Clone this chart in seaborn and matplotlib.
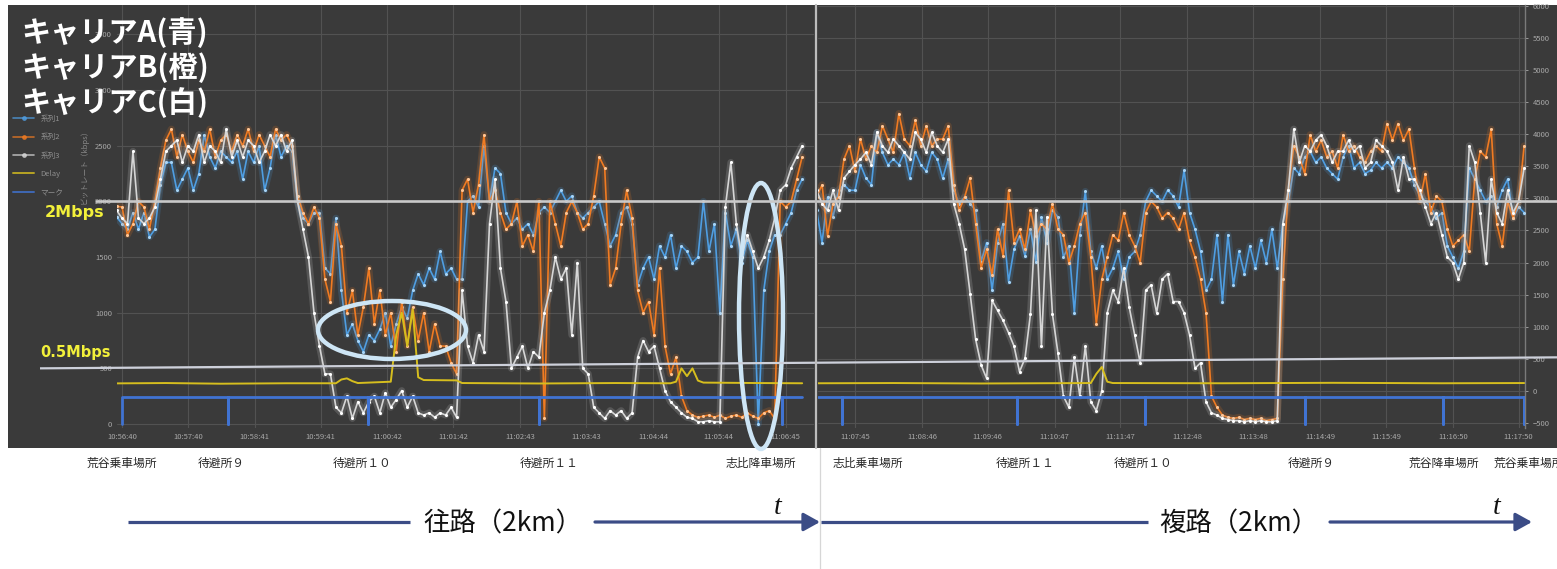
import numpy as np
import pandas as pd
import matplotlib
matplotlib.use("Agg")
import matplotlib.pyplot as plt
import matplotlib.transforms as mtransforms
from matplotlib.patches import Ellipse, Rectangle
from matplotlib.lines import Line2D
import seaborn as sns

# ---------------- data ----------------
series_names = ["系列1", "系列2", "系列3"]
legend_extra = ["Delay", "マーク"]
carrier_labels = ["キャリアA(青)", "キャリアB(橙)", "キャリアC(白)"]
threshold_labels = ["2Mbps", "0.5Mbps"]
threshold_values = [2000, 500]
y_axis_label = "ビットレート（kbps）"

left_time_labels = ["10:56:40", "10:57:40", "10:58:41", "10:59:41", "11:00:42", "11:01:42",
                    "11:02:43", "11:03:43", "11:04:44", "11:05:44", "11:06:45"]
right_time_labels = ["11:07:45", "11:08:46", "11:09:46", "11:10:47", "11:11:47", "11:12:48",
                     "11:13:48", "11:14:49", "11:15:49", "11:16:50", "11:17:50"]
left_axis_ticks = list(range(0, 3501, 500))
right_axis_ticks = list(range(-500, 6001, 500))

# sample times (seconds after 10:56:40)
t_left = np.arange(-5, 621, 5)
t_right = np.arange(630, 1276, 5)

blue_left = [1860, 1800, 1750, 1900, 1750, 1900, 1680, 1750, 2150, 2350,
             2350, 2100, 2200, 2300, 2100, 2250, 2600, 2400, 2300, 2450,
             2400, 2350, 2450, 2200, 2450, 2350, 2500, 2100, 2300, 2600,
             2400, 2500, 2450, 2000, 1850, 1800, 1900, 1900, 1400, 1350,
             1850, 1200, 800, 900, 750, 650, 800, 750, 850, 1000,
             700, 900, 1050, 950, 1200, 1350, 1250, 1400, 1300, 1550,
             1350, 1400, 1300, 1300, 2000, 2050, 1950, 2500, 2000, 2300,
             2250, 1900, 1800, 1850, 1750, 1800, 1700, 1900, 1950, 1900,
             2000, 2100, 2000, 2050, 1900, 1850, 1900, 1950, 2000, 1800,
             1600, 1700, 1900, 1950, 1800, 1250, 1400, 1500, 1300, 1600,
             1500, 1700, 1400, 1600, 1550, 1450, 1500, 2000, 1550, 1800,
             1000, 1900, 1600, 1750, 1450, 1650, 1500, 0, 1200, 1550,
             1700, 1700, 1800, 1900, 2100, 2200]
orange_left = [1955, 1950, 1700, 1800, 2000, 1950, 1750, 2000, 2300, 2550,
               2650, 2400, 2600, 2450, 2350, 2550, 2450, 2650, 2400, 2550,
               2600, 2450, 2600, 2500, 2650, 2450, 2600, 2500, 2400, 2650,
               2550, 2600, 2500, 2050, 1900, 1800, 1950, 1850, 1300, 1100,
               1800, 1600, 1000, 1200, 800, 1050, 1400, 900, 1200, 800,
               1000, 650, 1100, 700, 1050, 750, 1000, 650, 900, 700,
               700, 550, 450, 2100, 2200, 1900, 2150, 2600, 2000, 2100,
               1900, 1750, 1800, 2000, 1600, 1700, 1550, 2000, 50, 2000,
               1800, 1600, 1900, 2000, 1900, 1750, 1800, 2050, 2400, 2300,
               1250, 1400, 1800, 2100, 1850, 1200, 1000, 1100, 800, 1400,
               700, 450, 600, 250, 120, 80, 60, 70, 80, 60,
               80, 50, 70, 80, 60, 100, 70, 50, 100, 120,
               50, 2000, 1950, 2000, 2200, 2400]
white_left = [1920, 1850, 1800, 2450, 1850, 1800, 1850, 1950, 2200, 2450,
              2500, 2550, 2350, 2500, 2450, 2600, 2350, 2500, 2450, 2350,
              2650, 2400, 2550, 2400, 2550, 2500, 2350, 2450, 2600, 2500,
              2600, 2450, 2550, 2000, 1750, 1500, 1000, 700, 450, 450,
              150, 100, 250, 50, 200, 100, 200, 250, 100, 280,
              150, 220, 300, 150, 250, 100, 80, 100, 60, 100,
              80, 150, 60, 1200, 700, 550, 800, 650, 1800, 2200,
              1400, 1100, 500, 600, 700, 500, 650, 600, 1000, 1200,
              1500, 1300, 1400, 800, 1450, 500, 450, 150, 100, 50,
              120, 80, 120, 50, 100, 600, 750, 650, 700, 500,
              300, 200, 150, 100, 60, 50, 20, 20, 30, 20,
              20, 1950, 2350, 1800, 1500, 1700, 1550, 1400, 1500, 1650,
              1850, 2100, 2150, 2300, 2400, 2500]

blue_right = [1920, 1630, 2040, 1860, 2100, 2150, 2100, 2100, 2330, 2210,
              2150, 2620, 2440, 2330, 2380, 2330, 2440, 2210, 2440, 2330,
              2270, 2440, 2380, 2210, 2380, 2100, 1980, 2040, 1980, 1920,
              1460, 1630, 1200, 1630, 1800, 1280, 1570, 1690, 1510, 1750,
              1460, 1860, 1630, 1920, 1860, 1500, 1600, 1000, 1700, 2090,
              1550, 1400, 1600, 1300, 1400, 1550, 1300, 1500, 1550, 1700,
              2000, 2100, 2050, 2000, 2100, 2050, 1950, 2280, 1900, 1750,
              1550, 1200, 1300, 1700, 1100, 1700, 1250, 1550, 1350, 1600,
              1400, 1650, 1450, 1750, 1400, 1800, 2000, 2300, 2250, 2400,
              2450, 2350, 2400, 2300, 2250, 2200, 2400, 2500, 2300, 2350,
              2250, 2280, 2350, 2300, 2350, 2300, 2400, 2350, 2300, 2150,
              2050, 2000, 1950, 1850, 1900, 1600, 1500, 1400, 1550, 2300,
              2200, 2100, 2000, 2050, 1950, 2100, 2200, 1850, 1950, 1900]
orange_right = [2040, 2150, 1690, 1980, 2040, 2380, 2500, 2270, 2560, 2380,
                2500, 2440, 2680, 2560, 2440, 2790, 2560, 2500, 2730, 2500,
                2680, 2500, 2560, 2560, 2680, 2150, 1920, 2040, 2210, 1800,
                1400, 1570, 1340, 1750, 1510, 2100, 1630, 1750, 1570, 1920,
                1690, 1800, 1750, 1980, 1750, 1700, 1450, 1600, 1800, 1900,
                1500, 900, 1300, 1500, 1700, 1650, 1900, 1700, 1600, 1450,
                1900, 2000, 1950, 1850, 1900, 1850, 1750, 1900, 1650, 1500,
                1300, 1000, 250, 150, 80, 60, 50, 60, 40, 50,
                40, 50, 30, 40, 50, 1300, 2100, 2500, 2400, 2250,
                2600, 2450, 2550, 2400, 2450, 2300, 2600, 2450, 2500, 2400,
                2350, 2450, 2500, 2450, 2700, 2550, 2700, 2550, 2650, 2300,
                2000, 2250, 1900, 2050, 2000, 1750, 1600, 1650, 1700, 1550,
                2200, 2450, 2400, 2650, 1800, 1600, 2000, 1850, 2000, 2500]
white_right = [2100, 1980, 1920, 2100, 1920, 2210, 2270, 2330, 2380, 2440,
               2330, 2620, 2500, 2440, 2560, 2500, 2440, 2380, 2620, 2560,
               2440, 2620, 2500, 2440, 2560, 1980, 1800, 1570, 1170, 760,
               530, 410, 1110, 1020, 930, 820, 700, 470, 590, 990,
               1920, 700, 1860, 990, 640, 250, 150, 600, 250, 700,
               200, 120, 300, 1000, 1200, 1100, 1400, 1050, 800, 550,
               1200, 1250, 1000, 1300, 1350, 1100, 1100, 1000, 800, 500,
               550, 200, 100, 80, 50, 40, 30, 30, 20, 30,
               20, 30, 20, 20, 30, 1800, 2100, 2650, 2350, 2500,
               2450, 2550, 2600, 2500, 2350, 2450, 2450, 2550, 2450, 2500,
               2300, 2350, 2550, 2500, 2450, 2350, 2100, 2400, 2200, 2200,
               2100, 1950, 1800, 1900, 1700, 1500, 1450, 1300, 1450, 2500,
               2350, 1900, 1450, 2200, 1900, 1800, 2100, 1900, 2000, 2300]

delay_left_t = [-5, 40, 90, 150, 195, 200, 205, 210, 215, 245, 250, 255, 260, 265, 270,
                275, 305, 310, 380, 450, 500, 505, 510, 515, 520, 525, 530, 580, 620]
delay_left_v = [365, 368, 362, 366, 366, 400, 410, 385, 368, 380, 800, 1000, 700, 1030, 420,
                395, 392, 368, 364, 368, 366, 380, 500, 430, 500, 390, 372, 368, 366]
delay_right_t = [631, 700, 780, 880, 885, 890, 895, 900, 1000, 1100, 1200, 1275]
delay_right_v = [366, 368, 364, 368, 450, 512, 380, 368, 366, 370, 366, 368]

marker_level = 243
marker_left_events = [0, 97, 224, 380, 602]
marker_right_events = [653, 813, 929, 1075, 1201, 1275]

stations_left = ["荒谷乗車場所", "待避所９", "待避所１０", "待避所１１", "志比降車場所"]
stations_left_t = [0, 90, 219, 389, 582]
stations_right = ["志比乗車場所", "待避所１１", "待避所１０", "待避所９", "荒谷降車場所", "荒谷乗車場所"]
stations_right_t = [677, 820, 928, 1081, 1202, 1247]

route_labels = ["往路（2km）", "複路（2km）"]

# ---------------- style ----------------
sns.set_theme(style="white")
plt.rcParams['font.family'] = ['Noto Sans CJK JP', 'DejaVu Sans']
plt.rcParams['axes.unicode_minus'] = True

W, H = 1557, 569
BG = '#3a3a3a'
GRID = '#525252'
TICK = '#a8a8a8'
line_cols = ['#4f9ee2', '#f07b22', '#d6d6d6']
dot_cols = ['#a6d4f7', '#ffc594', '#ffffff']
delay_col = '#d6be1e'
marker_col = '#4073d2'


def secs(s):
    h, m, x = map(int, s.split(':'))
    return h * 3600 + m * 60 + x - (10 * 3600 + 56 * 60 + 40)


fig = plt.figure(figsize=(W / 100, H / 100), dpi=100)
fig.patch.set_facecolor('white')
fig.add_artist(Rectangle((8 / W, 1 - 448 / H), (W - 8) / W, 443 / H,
                         transform=fig.transFigure, facecolor=BG, edgecolor='none', zorder=0))

axL = fig.add_axes([117 / W, 1 - 428 / H, 697 / W, 423 / H])
axR2 = fig.add_axes([818 / W, 1 - 428 / H, 707 / W, 423 / H])  # secondary (right) axis, drawn below
axR = fig.add_axes([818 / W, 1 - 428 / H, 707 / W, 423 / H])

ylim = (-36, 3765)
for ax in (axL, axR, axR2):
    ax.set_facecolor('none')
    ax.patch.set_visible(False)
    for sp in ax.spines.values():
        sp.set_visible(False)

axL.set_xlim(-4.56, 630.8)
axR.set_xlim(631.3, 1275.8)
axR2.set_xlim(631.3, 1275.8)
axL.set_ylim(*ylim)
axR.set_ylim(*ylim)
axR2.set_ylim(-576, 6012)

# ticks & grid
axL.set_xticks([secs(s) for s in left_time_labels])
axL.set_xticklabels(left_time_labels)
axL.set_yticks(left_axis_ticks)
axL.set_yticklabels([str(v) for v in left_axis_ticks])
axL.grid(True, color=GRID, lw=0.8)
axL.set_axisbelow(True)
axL.tick_params(axis='both', labelsize=5.5, colors=TICK, length=0, pad=3.5)

axR.set_xticks([secs(s) for s in right_time_labels])
axR.set_xticklabels(right_time_labels)
axR.set_yticks([])
axR.grid(False)
axR.tick_params(axis='x', labelsize=5.5, colors=TICK, length=0, pad=3.5)

axR2.set_xticks([secs(s) for s in right_time_labels])
axR2.set_xticklabels([])
axR2.yaxis.tick_right()
axR2.set_yticks(right_axis_ticks)
axR2.set_yticklabels([str(v) if v >= 0 else '−' + str(-v) for v in right_axis_ticks])
axR2.grid(True, color=GRID, lw=0.8)
axR2.tick_params(axis='x', length=0)
axR2.tick_params(axis='y', labelsize=5.5, colors=TICK, length=2.5, pad=3, width=0.6)
axR2.spines['right'].set_visible(True)
axR2.spines['right'].set_color('#7a7a7a')
axR2.spines['right'].set_linewidth(1.0)


def draw_series(ax, t, values_list):
    for name, vals, lc, dc in zip(series_names, values_list, line_cols, dot_cols):
        df = pd.DataFrame({'t': t, 'v': vals})
        ax.plot(df.t, df.v, color=lc, lw=5, alpha=0.18, solid_joinstyle='round', zorder=3)
        sns.lineplot(data=df, x='t', y='v', ax=ax, color=lc, lw=1.2, estimator=None,
                     sort=False, legend=False, zorder=3)
        sns.scatterplot(data=df, x='t', y='v', ax=ax, color=dc, s=5, linewidth=0,
                        legend=False, zorder=3)


def draw_delay_marker(ax, dt, dv, events, t0, t1, start_drop):
    ddf = pd.DataFrame({'t': dt, 'v': dv})
    sns.lineplot(data=ddf, x='t', y='v', ax=ax, color=delay_col, lw=1.4, estimator=None,
                 sort=False, legend=False, zorder=4)
    mt, mv = [], []
    if start_drop:
        mt += [t0]
        mv += [0]
    mt += [t0]
    mv += [marker_level]
    for e in events:
        mt += [e, e, e]
        mv += [marker_level, 0, marker_level]
    if events[-1] < t1:
        mt += [t1]
        mv += [marker_level]
    mdf = pd.DataFrame({'t': mt, 'v': mv})
    sns.lineplot(data=mdf, x='t', y='v', ax=ax, color=marker_col, lw=2.0, estimator=None,
                 sort=False, legend=False, zorder=5)


draw_series(axL, t_left, [blue_left, orange_left, white_left])
draw_delay_marker(axL, delay_left_t, delay_left_v, marker_left_events[1:], 0, 620, True)
draw_series(axR, t_right, [blue_right, orange_right, white_right])
draw_delay_marker(axR, delay_right_t, delay_right_v, marker_right_events, 631.3, 1275, False)

for ax in (axL, axR, axR2):
    ax.set_xlabel('')
    ax.set_ylabel('')

# station names under each chart
for ax, names, ts in ((axL, stations_left, stations_left_t), (axR, stations_right, stations_right_t)):
    tr = mtransforms.blended_transform_factory(ax.transData, ax.transAxes)
    for i, (n, tt) in enumerate(zip(names, ts)):
        ha = 'left' if (ax is axR and i == len(names) - 1) else 'center'
        ax.text(tt, -0.083, n, transform=tr, ha=ha, va='center', fontsize=8.5,
                color='#262626', clip_on=False)

# faint legend & y label from the original chart
handles = [Line2D([], [], color=c, lw=1.2, marker='o', ms=2.5, alpha=0.75) for c in line_cols]
handles += [Line2D([], [], color=delay_col, lw=1.4, alpha=0.8),
            Line2D([], [], color=marker_col, lw=1.4, alpha=0.8)]
fig.legend(handles, series_names + legend_extra, loc='upper left',
           bbox_to_anchor=(10 / W, 1 - 112 / H), frameon=False, fontsize=5.5,
           labelcolor='#8e8e8e', handlelength=2.8, labelspacing=1.35, borderaxespad=0)
fig.text(84 / W, 1 - 165 / H, y_axis_label, rotation=90, ha='center', va='center',
         fontsize=5.5, color='#8a8a8a')

# ---------------- overlay annotations (pixel coordinates) ----------------
axO = fig.add_axes([0, 0, 1, 1])
axO.set_xlim(0, W)
axO.set_ylim(H, 0)
axO.axis('off')
axO.patch.set_visible(False)


def ypix(v):
    disp = axL.transData.transform((0, v))
    return H - disp[1]


y2 = ypix(threshold_values[0])
y05 = ypix(threshold_values[1])
axO.plot([95, W], [y2, y2], color='#c9c9c9', lw=1.9, solid_capstyle='butt')
axO.plot([40, W], [y05, y05 - 11], color='#cdd0da', lw=1.6, solid_capstyle='butt')
axO.text(45, y2 + 11, threshold_labels[0], color='#f2f03a', fontsize=11.5, fontweight='bold',
         family='DejaVu Sans', ha='left', va='center')
axO.text(40, y05 - 16, threshold_labels[1], color='#f2f03a', fontsize=10.5, fontweight='bold',
         family='DejaVu Sans', ha='left', va='center')

for i, lab in enumerate(carrier_labels):
    axO.text(21, 33 + 35 * i, lab, color='white', fontsize=21, fontweight='bold',
             ha='left', va='center')

axO.add_patch(Ellipse((392, 330), 148, 58, fill=False, edgecolor='#cde5f5', lw=3.2))
axO.add_patch(Ellipse((761, 316), 44, 266, fill=False, edgecolor='#cde5f5', lw=3.2))

# divider between the two screenshots
axO.plot([816.5, 816.5], [5, 448], color='#bcbcbc', lw=1.6)
axO.plot([820, 820], [448, H], color='#d6d6d6', lw=0.9)

# route arrows
acol = '#3b4c86'
axO.plot([128, 410], [522, 522], color=acol, lw=2.3, solid_capstyle='butt')
axO.annotate('', xy=(820, 522), xytext=(595, 522),
             arrowprops=dict(arrowstyle='-|>,head_length=0.9,head_width=0.5', color=acol,
                             lw=2.3, shrinkA=0, shrinkB=0, mutation_scale=11))
axO.plot([821, 1148], [522, 522], color=acol, lw=2.3, solid_capstyle='butt')
axO.annotate('', xy=(1532, 522), xytext=(1330, 522),
             arrowprops=dict(arrowstyle='-|>,head_length=0.9,head_width=0.5', color=acol,
                             lw=2.3, shrinkA=0, shrinkB=0, mutation_scale=11))
axO.text(503, 524, route_labels[0], fontsize=19, color='#111111', ha='center', va='center')
axO.text(1239, 524, route_labels[1], fontsize=19, color='#111111', ha='center', va='center')
for x in (778, 1497):
    axO.text(x, 508, 't', fontsize=20, style='italic', family='Liberation Serif',
             color='#111111', ha='center', va='center')

fig.savefig('out.png', dpi=100, facecolor='white')
